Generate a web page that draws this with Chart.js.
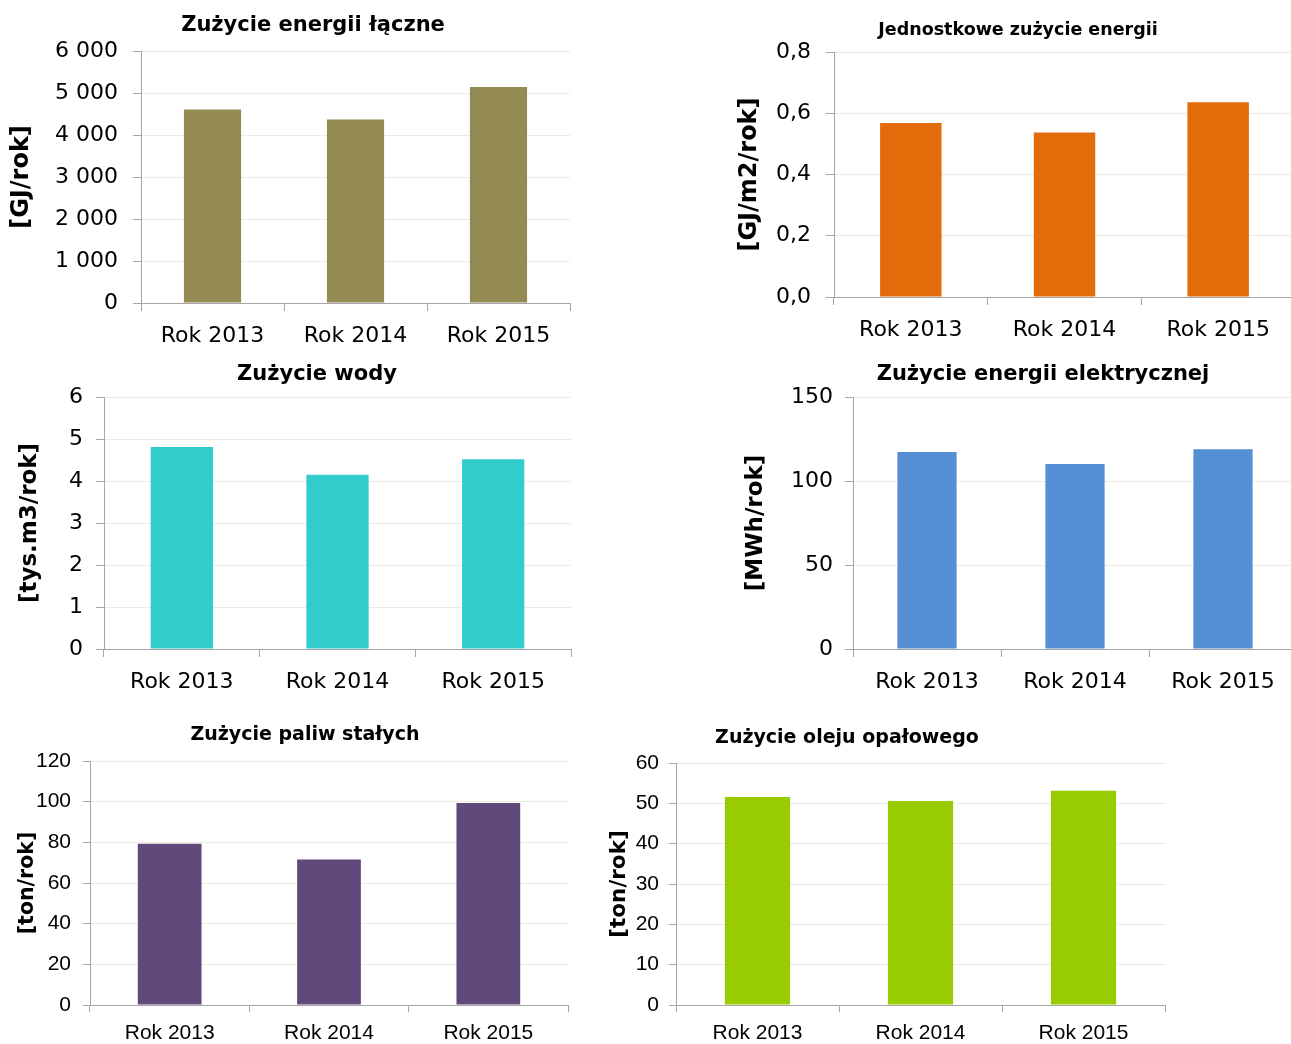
<!DOCTYPE html>
<html>
<head>
<meta charset="utf-8">
<script src="https://cdn.jsdelivr.net/npm/chart.js@4.4.1/dist/chart.umd.min.js"></script>
<style>
  html, body { margin: 0; padding: 0; background: #fff; overflow: hidden; }
  #page { position: relative; width: 1291px; height: 1044px; overflow: hidden; }
  #page canvas { position: absolute; }
</style>
</head>
<body>
<div id="page"></div>
<script>
const years = ["Rok 2013", "Rok 2014", "Rok 2015"];

// values
const energiaLaczna = [4610, 4370, 5140];
const energiaJednostkowa = [0.568, 0.537, 0.636];
const zuzycieWody = [4.81, 4.15, 4.52];
const energiaElektryczna = [117.3, 110.1, 118.9];
const paliwaStale = [79.3, 71.6, 99.3];
const olejOpalowy = [51.6, 50.6, 53.1];

const chartTitles = [
  "Zużycie energii łączne",
  "Jednostkowe zużycie energii",
  "Zużycie wody",
  "Zużycie energii elektrycznej",
  "Zużycie paliw stałych",
  "Zużycie oleju opałowego"
];
const unitLabels = ["[GJ/rok]", "[GJ/m2/rok]", "[tys.m3/rok]", "[MWh/rok]", "[ton/rok]", "[ton/rok]"];
const yMax = [6000, 0.8, 6, 150, 120, 60];
const yStep = [1000, 0.2, 1, 50, 20, 10];

const tahoma = "'DejaVu Sans', Verdana, sans-serif";
const arial = "'Liberation Sans', Arial, sans-serif";
const axisGray = "#a6a6a6";
const gridGray = "#ebebe3";

const spaced = (v) => String(v).replace(/\B(?=(\d{3})+(?!\d))/g, " ");
const comma = (v) => v.toFixed(1).replace(".", ",");
const plain = (v) => String(v);

function makeChart(o) {
  const c = document.createElement("canvas");
  c.width = o.w;
  c.height = o.h;
  c.style.left = o.left + "px";
  c.style.top = o.top + "px";
  c.style.width = o.w + "px";
  c.style.height = o.h + "px";
  document.getElementById("page").appendChild(c);

  const tLh = o.titleSize * 1.2;
  const uLh = o.unitSize * 1.2;
  const lLh = o.labelSize * 1.2;

  new Chart(c, {
    type: "bar",
    data: {
      labels: years,
      datasets: [{
        data: o.data,
        backgroundColor: o.color,
        categoryPercentage: 1,
        barPercentage: 0.4,
        xAxisID: "x",
        yAxisID: "y"
      }]
    },
    options: {
      responsive: false,
      animation: false,
      layout: { padding: 0 },
      plugins: {
        legend: { display: false },
        tooltip: { enabled: false },
        title: {
          display: true,
          text: o.title,
          color: "#000",
          font: { family: tahoma, size: o.titleSize, weight: "bold" },
          padding: { top: o.titleY - o.top - tLh / 2, bottom: o.plotTop - o.titleY - tLh / 2 }
        }
      },
      scales: {
        x: {
          z: 1,
          grid: { drawOnChartArea: false, offset: true, tickLength: o.tick, tickColor: axisGray },
          border: { color: axisGray },
          ticks: {
            color: "#000",
            font: { family: o.font, size: o.labelSize },
            padding: o.labelY - o.plotBottom - o.tick - lLh / 2
          },
          afterFit: (s) => { s.height = o.top + o.h - o.plotBottom; }
        },
        y: {
          min: 0,
          max: o.max,
          ticks: {
            stepSize: o.step,
            color: "#000",
            font: { family: o.font, size: o.labelSize },
            padding: o.tickPad,
            callback: o.fmt
          },
          grid: { color: gridGray, tickLength: o.tick, tickColor: axisGray },
          border: { color: axisGray },
          title: {
            display: true,
            text: o.unit,
            color: "#000",
            font: { family: tahoma, size: o.unitSize, weight: "bold" },
            padding: { top: o.unitX - o.left - uLh / 2, bottom: 0 }
          },
          afterFit: (s) => { s.width = o.plotLeft - o.left; }
        },
        pad: {
          position: "right",
          display: true,
          grid: { display: false },
          border: { display: false },
          ticks: { display: false },
          afterFit: (s) => { s.width = o.left + o.w - o.plotRight; }
        }
      }
    }
  });
}

makeChart({
  data: energiaLaczna, color: "#948A54", title: chartTitles[0], unit: unitLabels[0],
  max: yMax[0], step: yStep[0], fmt: spaced, font: tahoma, labelSize: 22,
  left: 0, top: 0, w: 626, h: 350, titleY: 26, titleSize: 21,
  plotTop: 51, plotBottom: 303, plotLeft: 141, plotRight: 570,
  unitX: 22, unitSize: 24, tick: 8, tickPad: 15, labelY: 336
});

makeChart({
  data: energiaJednostkowa, color: "#E36C0A", title: chartTitles[1], unit: unitLabels[1],
  max: yMax[1], step: yStep[1], fmt: comma, font: tahoma, labelSize: 22,
  left: 735, top: 0, w: 566, h: 345, titleY: 30, titleSize: 17.5,
  plotTop: 52, plotBottom: 297, plotLeft: 834, plotRight: 1295,
  unitX: 750, unitSize: 24, tick: 8, tickPad: 15, labelY: 330
});

makeChart({
  data: zuzycieWody, color: "#33CCCC", title: chartTitles[2], unit: unitLabels[2],
  max: yMax[2], step: yStep[2], fmt: plain, font: tahoma, labelSize: 22,
  left: 0, top: 350, w: 634, h: 350, titleY: 375, titleSize: 21,
  plotTop: 397, plotBottom: 649, plotLeft: 104, plotRight: 571,
  unitX: 30, unitSize: 23, tick: 8, tickPad: 13, labelY: 682
});

makeChart({
  data: energiaElektryczna, color: "#558ED5", title: chartTitles[3], unit: unitLabels[3],
  max: yMax[3], step: yStep[3], fmt: plain, font: tahoma, labelSize: 22,
  left: 740, top: 350, w: 606, h: 350, titleY: 375, titleSize: 21,
  plotTop: 397, plotBottom: 649, plotLeft: 853, plotRight: 1297,
  unitX: 756, unitSize: 23, tick: 8, tickPad: 12, labelY: 682
});

makeChart({
  data: paliwaStale, color: "#604A7B", title: chartTitles[4], unit: unitLabels[4],
  max: yMax[4], step: yStep[4], fmt: plain, font: arial, labelSize: 21,
  left: 0, top: 705, w: 610, h: 339, titleY: 735, titleSize: 19,
  plotTop: 761, plotBottom: 1005, plotLeft: 90, plotRight: 568,
  unitX: 28, unitSize: 20.5, tick: 7, tickPad: 12, labelY: 1033
});

makeChart({
  data: olejOpalowy, color: "#99CC00", title: chartTitles[5], unit: unitLabels[5],
  max: yMax[5], step: yStep[5], fmt: plain, font: arial, labelSize: 21,
  left: 520, top: 705, w: 654, h: 339, titleY: 738, titleSize: 19,
  plotTop: 763, plotBottom: 1005, plotLeft: 676, plotRight: 1165,
  unitX: 619, unitSize: 21.5, tick: 7, tickPad: 10, labelY: 1033
});
</script>
</body>
</html>
